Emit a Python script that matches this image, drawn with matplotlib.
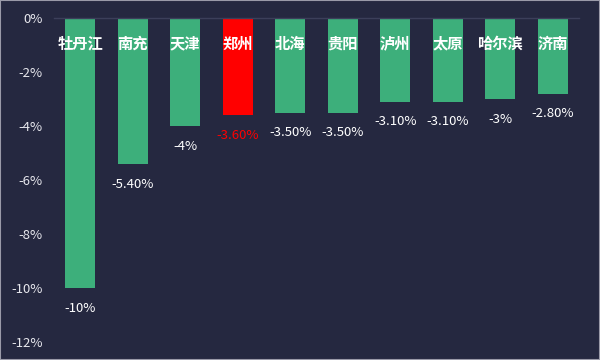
import matplotlib
matplotlib.use('Agg')
import matplotlib.pyplot as plt
import numpy as np

plt.rcParams['font.family'] = ['Noto Sans CJK SC', 'DejaVu Sans']

# data
cities = ['牡丹江', '南充', '天津', '郑州', '北海', '贵阳', '泸州', '太原', '哈尔滨', '济南']
changes = [-10, -5.40, -4, -3.60, -3.50, -3.50, -3.10, -3.10, -3, -2.80]
value_labels = ['-10%', '-5.40%', '-4%', '-3.60%', '-3.50%', '-3.50%',
                '-3.10%', '-3.10%', '-3%', '-2.80%']
yticks = [0, -2, -4, -6, -8, -10, -12]
highlight = '郑州'

bg = '#252840'
green = '#3daf7b'
red = '#ff0000'

fig = plt.figure(figsize=(6, 3.6), dpi=100, facecolor=bg)
ax = fig.add_axes([0.09, 0.05, 0.875, 0.90])
ax.set_facecolor(bg)

x = np.arange(len(cities))
colours = [red if c == highlight else green for c in cities]
ax.bar(x, changes, width=0.57, color=colours)

for xi, name, val, lab, col in zip(x, cities, changes, value_labels, colours):
    ax.text(xi, -0.95, name, ha='center', va='center', color='white',
            fontsize=11, fontweight='bold')
    ax.text(xi, val - 0.75, lab, ha='center', va='center',
            color=red if col == red else 'white', fontsize=9.5,
            fontweight='medium')

ax.set_xlim(-0.5, len(cities) - 0.5)
ax.set_ylim(-12, 0)
ax.set_yticks(yticks)
ax.set_yticklabels([f'{t}%' for t in yticks], color='#e8e8ee', fontsize=9.5)
ax.set_xticks([])
ax.tick_params(axis='y', length=0, pad=8)
for s in ['left', 'right', 'bottom']:
    ax.spines[s].set_visible(False)
ax.spines['top'].set_color('#3c3f5a')
ax.spines['top'].set_linewidth(1)

# thin light border round the picture
fig.patches.append(plt.Rectangle((0, 0), 1, 1, transform=fig.transFigure,
                                 fill=False, edgecolor='#9a9aa8', linewidth=1.5))

fig.savefig('out.png', dpi=100, facecolor=bg)
